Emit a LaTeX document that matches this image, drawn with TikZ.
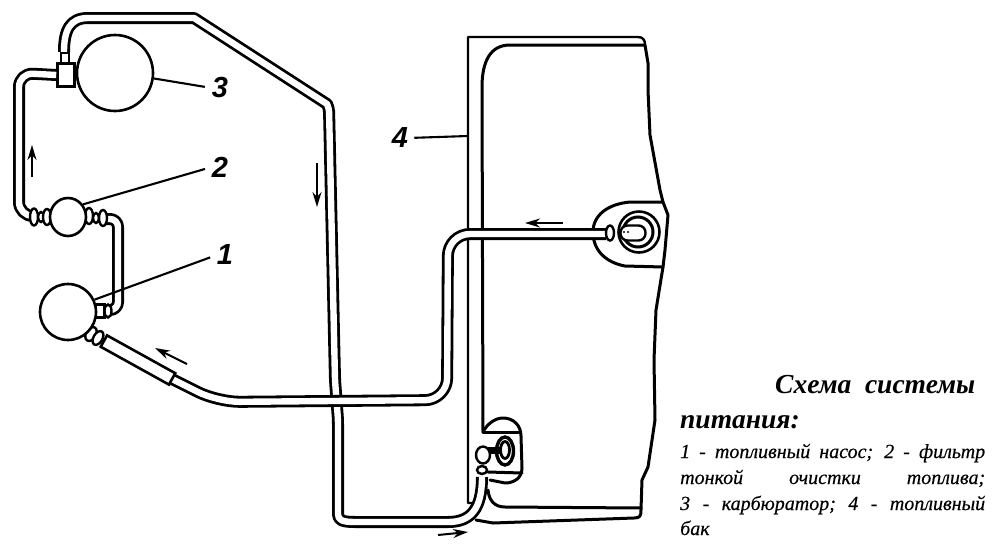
\documentclass[tikz,border=0pt]{standalone}
\usepackage{fontspec}
\setmainfont{Liberation Serif}
\newfontfamily\lblfont{Liberation Sans}
\newfontfamily\descfont[ItalicFeatures={FakeBold=0.4}]{Liberation Serif}
\usetikzlibrary{shapes.geometric,arrows.meta}
\tikzset{
  wall/.style={line width=3pt,line join=round,line cap=round},
  thin wall/.style={line width=2.4pt,line join=round,line cap=round},
  tube/.style={line width=2.8pt,double=white,double distance=6.4pt,line join=round},
  part/.style={circle,draw,fill=white,line width=2.6pt,inner sep=0pt},
  fit part/.style={ellipse,draw,fill=white,line width=2.4pt,inner sep=0pt},
  leader/.style={line width=2.1pt},
  flow/.style={line width=2pt,-{Stealth[length=15pt,width=9pt]}},
  num/.style={font=\lblfont\bfseries\itshape\fontsize{29}{29}\selectfont,inner sep=0pt},
  capt/.style={anchor=base west,inner sep=0pt,font=\itshape\bfseries\fontsize{27.5}{27.5}\selectfont},
  desc/.style={anchor=base west,inner sep=0pt,font=\descfont\itshape\fontsize{20}{20}\selectfont}
}
\begin{document}
\begin{tikzpicture}[x=1pt,y=-1pt]
\useasboundingbox (0,0) rectangle (1005,550);
% tank
\draw[thin wall] (475,503) -- (468,503) -- (468,37) -- (638,37) .. controls (643,37) and (645,40) .. (645,45);
\draw[wall] (483,432) -- (482,87) .. controls (482,62) and (490,45) .. (510,45) -- (645,45)
  -- (648,63) -- (648,90) -- (650,135) -- (660,190) -- (663,202) -- (668,215) -- (665,250) -- (663,267)
  -- (656,310) -- (654,360) -- (655,420) -- (648,467) -- (642,480) -- (641,510) .. controls (641,516) and (640,518) .. (634,518)
  -- (493,523) -- (476,520);
\draw[wall] (488,490) .. controls (489,500) and (494,507) .. (505,507) -- (641,508);
% upper boss
\draw[wall] (663,202) -- (630,202) .. controls (608,204) and (593,215) .. (593,232) .. controls (593,252) and (608,263) .. (625,266) -- (663,267);
% lower boss
\draw[wall] (483,432) .. controls (487,424) and (495,418) .. (503,418) .. controls (513,418) and (521,425) .. (521,436)
  -- (522,468) .. controls (522,478) and (514,483) .. (505,483) -- (490,480);
\draw[wall] (483,432) -- (520,432);
\draw[wall] (488,472) -- (522,473);
% fittings and parts
\node[part,minimum size=76pt] (carb) at (115,73) {};
\node[rectangle,draw,fill=white,line width=2.6pt,minimum width=17pt,minimum height=23pt,inner sep=0pt] (box) at (66,75) {};
\node[rectangle,draw,fill=white,line width=2.2pt,minimum width=8pt,minimum height=10pt,inner sep=0pt] (neck) at (65,58) {};
% tubes
\draw[tube] (neck.north) ++(-1,0) coordinate (t1s) .. controls (64,30) and (70,18) .. (88,18) -- (194,18) -- (327,104) [rounded corners=4pt] -- (329,108) -- (335,380) -- (338,420) -- (338,510)
  [sharp corners] .. controls (338,520) and (342,522) .. (355,522) -- (448,522) .. controls (470,522) and (482,510) .. (482,477) coordinate (t1e);
\draw[tube,rounded corners=14pt] (box.west) -- (19,73) -- (19,216) -- (32,216);
\draw[tube,rounded corners=8pt] (103,219) -- (118,219) -- (118,310) -- (106,310);
\draw[tube,rounded corners=22pt] (170,378) -- (218,402) -- (447,400) -- (448,234) -- (606,234);
% small fittings of the filter
\node[fit part,minimum width=8pt,minimum height=17pt] (fa) at (34,217) {};
\node[fit part,minimum width=6pt,minimum height=10pt] (fb) at (41,217) {};
\node[fit part,minimum width=8pt,minimum height=16pt] (fc) at (47,217) {};
\node[fit part,minimum width=8pt,minimum height=16pt] (fd) at (89,216) {};
\node[fit part,minimum width=6pt,minimum height=10pt] (fe) at (96,218) {};
\node[fit part,minimum width=8pt,minimum height=16pt] (ff) at (103,218) {};
\node[part,ellipse,minimum width=36pt,minimum height=38pt] (filter) at (68,217) {};
% small fittings of the pump
\node[rectangle,draw,fill=white,line width=2.2pt,minimum width=9pt,minimum height=13pt,inner sep=0pt] (pa) at (100,311) {};
\node[fit part,minimum width=7pt,minimum height=13pt] (pb) at (108,311) {};
\node[fit part,minimum width=10pt,minimum height=15pt,rotate=-30] (pc) at (91,334) {};
\node[fit part,minimum width=9pt,minimum height=15pt,rotate=-30] (pd) at (98,338) {};
\node[rectangle,draw,fill=white,line width=2.6pt,minimum width=78pt,minimum height=13pt,inner sep=0pt,rotate=-29] (hose) at (138,360) {};
\node[part,minimum size=56pt] (pump) at (68,312) {};
% upper pick-up
\node[circle,draw,fill=white,line width=2.6pt,minimum size=41pt,inner sep=0pt] (ringa) at (639,232) {};
\node[circle,draw,fill=white,line width=3pt,minimum size=30pt,inner sep=0pt] (ringb) at (638,232) {};
\node[rectangle,rounded corners=7pt,draw,fill=white,line width=2.4pt,minimum width=25pt,minimum height=15pt,inner sep=0pt] (pill) at (633,233) {};
\fill (624,232) circle (1.2pt) (628,232) circle (1.2pt);
\node[fit part,minimum width=8pt,minimum height=15pt] (pickup) at (610,233) {};
% lower pick-up
\node[ellipse,draw,fill=white,line width=3.4pt,minimum width=17pt,minimum height=28pt,inner sep=0pt] (ringc) at (505,451) {};
\node[ellipse,draw,fill=white,line width=2.8pt,minimum width=9pt,minimum height=17pt,inner sep=0pt] (ringd) at (505,450) {};
\node[rectangle,fill=black,minimum width=13pt,minimum height=7pt,inner sep=0pt] (tap) at (494,450) {};
\node[fit part,minimum width=14pt,minimum height=17pt] (ball) at (483,455) {};
\node[fit part,minimum width=10pt,minimum height=8pt] (ballb) at (482,470) {};
% numbers
\node[num] (n3) at (220,88) {3};
\node[num] (n2) at (220,167) {2};
\node[num] (n1) at (225,255) {1};
\node[num] (n4) at (400,138) {4};
\draw[leader,shorten >=7pt] (carb.-8) -- (n3.west);
\draw[leader,shorten >=7pt] (filter.40) -- (n2.west);
\draw[leader,shorten >=7pt] (pump.25) -- (n1.west);
\draw[leader,shorten <=6pt] (n4.east) -- (468,136);
% flow arrows
\coordinate (aa) at (32,177); \coordinate (ab) at (32,145);
\coordinate (ba) at (317,163); \coordinate (bb) at (317,207);
\coordinate (ca) at (187,364); \coordinate (cb) at (155,348);
\coordinate (da) at (563,223); \coordinate (db) at (525,223);
\coordinate (ea) at (438,535); \coordinate (eb) at (468,532);
\draw[flow] (aa) -- (ab);
\draw[flow] (ba) -- (bb);
\draw[flow] (ca) -- (cb);
\draw[flow] (da) -- (db);
\draw[flow] (ea) -- (eb);
% caption
\node[capt] (c1) at (775,393) {\hbox to 200pt{Схема\hfil системы}};
\node[capt] (c2) at (680,428) {питания:};
\node[desc] (d1) at (680,458) {\hbox to 305pt{1 - топливный насос; 2 - фильтр}};
\node[desc] (d2) at (680,484) {\hbox to 305pt{тонкой\hfil очистки\hfil топлива;}};
\node[desc] (d3) at (680,510) {\hbox to 305pt{3\hfil -\hfil карбюратор;\hfil 4\hfil -\hfil топливный}};
\node[desc] (d4) at (680,535) {бак};
\end{tikzpicture}
\end{document}
